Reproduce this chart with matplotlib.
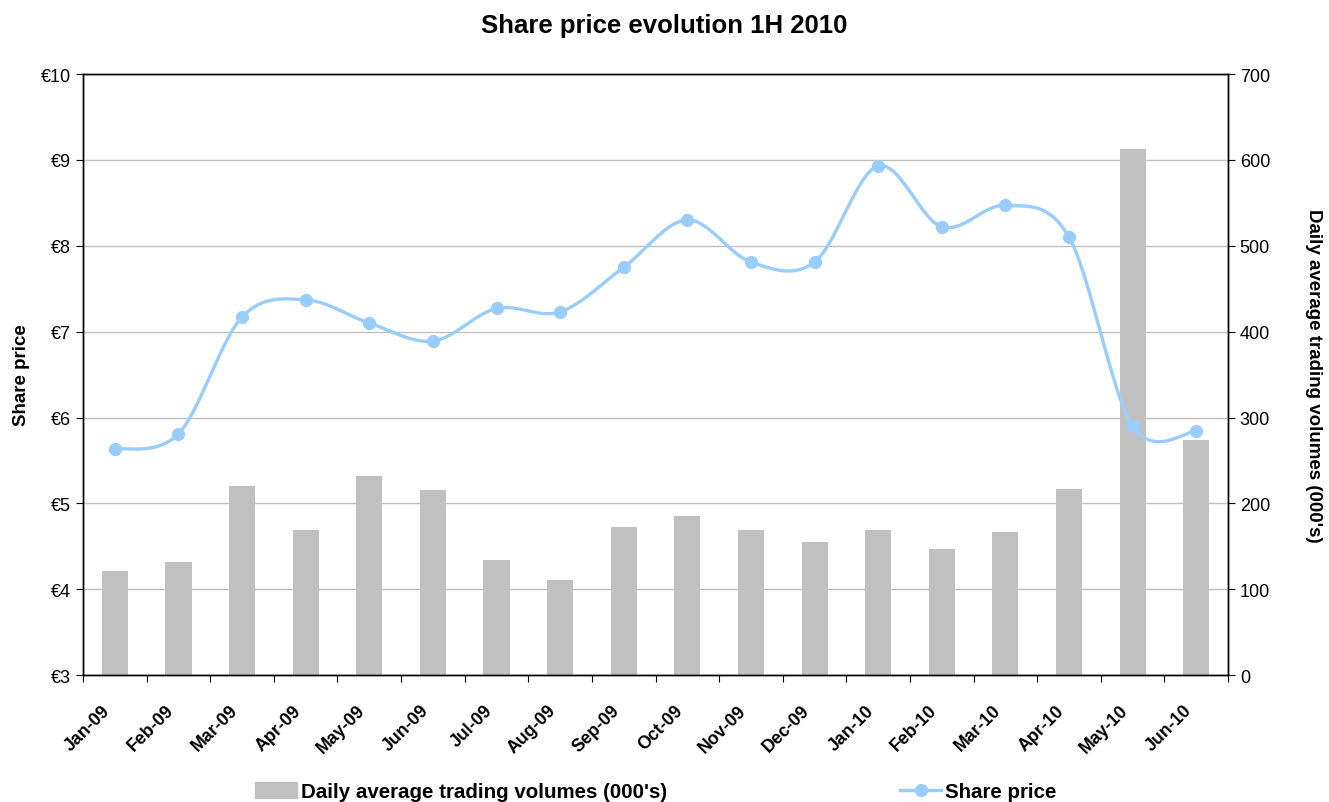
import matplotlib
matplotlib.use("Agg")
import matplotlib.pyplot as plt
import matplotlib.transforms as mtrans
import numpy as np
from matplotlib.patches import Patch
from matplotlib.lines import Line2D

plt.rcParams['font.family'] = ['Liberation Sans', 'DejaVu Sans']

months = ["Jan-09", "Feb-09", "Mar-09", "Apr-09", "May-09", "Jun-09",
          "Jul-09", "Aug-09", "Sep-09", "Oct-09", "Nov-09", "Dec-09",
          "Jan-10", "Feb-10", "Mar-10", "Apr-10", "May-10", "Jun-10"]
volumes = [121, 132, 220, 169, 232, 215, 134, 111, 172, 185, 169, 155,
           169, 147, 167, 217, 613, 274]
share_price = [5.63, 5.81, 7.17, 7.37, 7.10, 6.89, 7.27, 7.23, 7.75, 8.30,
               7.81, 7.81, 8.93, 8.22, 8.47, 8.10, 5.90, 5.84]

line_color = "#99CCFF"
bar_color = "#C0C0C0"


def smooth(xs, ys, n=30):
    # Excel-like smoothed line: cubic Bezier with Catmull-Rom control points
    xs = np.asarray(xs, float)
    ys = np.asarray(ys, float)
    px = np.concatenate([[xs[0]], xs, [xs[-1]]])
    py = np.concatenate([[ys[0]], ys, [ys[-1]]])
    out_x, out_y = [], []
    t = np.linspace(0, 1, n)
    for i in range(1, len(px) - 2):
        p0 = np.array([px[i], py[i]])
        p3 = np.array([px[i + 1], py[i + 1]])
        c1 = p0 + (p3 - np.array([px[i - 1], py[i - 1]])) / 6
        c2 = p3 - (np.array([px[i + 2], py[i + 2]]) - p0) / 6
        b = ((1 - t) ** 3)[:, None] * p0 + (3 * (1 - t) ** 2 * t)[:, None] * c1 \
            + (3 * (1 - t) * t ** 2)[:, None] * c2 + (t ** 3)[:, None] * p3
        out_x.extend(b[:, 0])
        out_y.extend(b[:, 1])
    return out_x, out_y


fig = plt.figure(figsize=(13.29, 8.03), dpi=100)
ax = fig.add_axes([0.0625, 0.158, 0.8615, 0.7486])
ax2 = ax.twinx()

x = np.arange(len(months))

# --- Bars on the volume axis ---
ax2.bar(x, volumes, width=0.41, color=bar_color, zorder=2)
ax2.set_ylim(0, 700)
ax2.set_yticks(range(0, 701, 100))
ax2.yaxis.grid(True, color="#C0C0C0", linewidth=1)
ax2.set_axisbelow(True)
ax2.set_ylabel("Daily average trading volumes (000's)", fontsize=13.5,
               fontweight="bold", rotation=-90, labelpad=37)

# --- Share price line on top ---
ax.set_zorder(ax2.get_zorder() + 1)
ax.patch.set_visible(False)
sx, sy = smooth(x, share_price)
ax.plot(sx, sy, color=line_color, linewidth=2.4, zorder=3)
ax.plot(x, share_price, "o", color=line_color, markersize=8.5, zorder=4)
ax.set_ylim(3, 10)
ax.set_yticks(range(3, 11))
ax.set_yticklabels([f"€{v}" for v in range(3, 11)])
ax.set_ylabel("Share price", fontsize=13.5, fontweight="bold", labelpad=8)

# --- Category axis ---
ax.set_xlim(-0.5, len(months) - 0.5)
ax.set_xticks(np.arange(len(months) + 1) - 0.5)
ax.set_xticklabels([])
ax.set_xticks(x, minor=True)
ax.set_xticklabels(months, minor=True, rotation=45, ha="right", va="top",
                   rotation_mode="anchor", fontsize=12.8, fontweight="bold")
ax.tick_params(axis="x", which="minor", length=0, pad=19)
ax.tick_params(axis="x", which="major", length=5, direction="out")
shift = mtrans.ScaledTranslation(-13 / 100, 0, fig.dpi_scale_trans)
for lbl in ax.get_xticklabels(minor=True):
    lbl.set_transform(lbl.get_transform() + shift)

for a in (ax, ax2):
    for s in a.spines.values():
        s.set_color("black")
        s.set_linewidth(1)
ax.tick_params(axis="y", labelsize=13, length=5)
ax2.tick_params(axis="y", labelsize=13, length=5)

fig.text(0.5, 0.968, "Share price evolution 1H 2010", ha="center", va="center",
         fontsize=18.5, fontweight="bold")

fig.legend(handles=[Patch(color=bar_color)],
           labels=["Daily average trading volumes (000's)"],
           loc="center", bbox_to_anchor=(0.347, 0.013), frameon=False,
           prop={"size": 14.8, "weight": "bold"}, handlelength=2.0,
           handleheight=0.8, handletextpad=0.2)
fig.legend(handles=[Line2D([], [], color=line_color, linewidth=2.4,
                           marker="o", markersize=8.5)],
           labels=["Share price"],
           loc="center", bbox_to_anchor=(0.736, 0.013), frameon=False,
           prop={"size": 14.8, "weight": "bold"}, handlelength=2.0,
           handletextpad=0.15)

fig.savefig("out.png", dpi=100)
